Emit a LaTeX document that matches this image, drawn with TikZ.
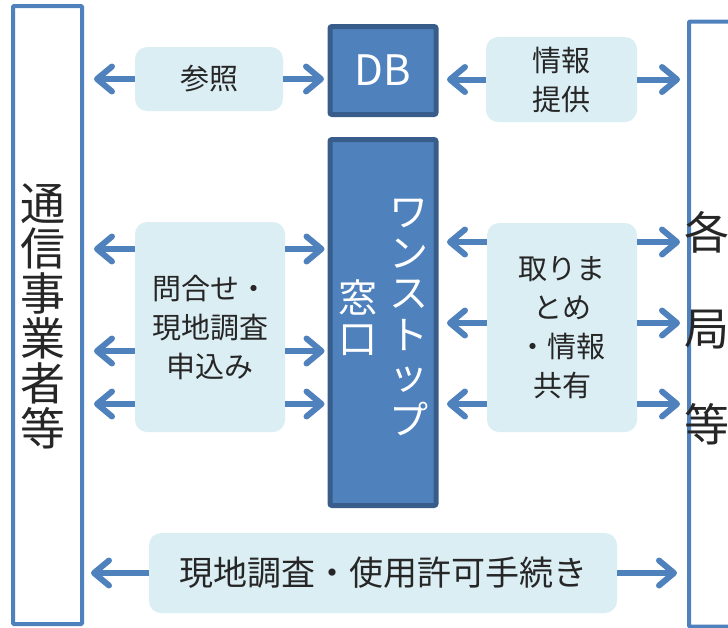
\documentclass[tikz,border=0pt]{standalone}
\usepackage{fontspec}
\setmainfont{Noto Sans CJK JP}
\usepackage{xcolor}
\usepackage{tikz}
\usetikzlibrary{arrows.meta}
\usetikzlibrary{positioning}
\definecolor{officeblue}{HTML}{4F81BD}
\definecolor{darkblue}{HTML}{385D8A}
\definecolor{paleblue}{HTML}{DBEEF4}
\tikzset{
    sidebox/.style = {rectangle, draw=officeblue, line width=4pt, fill=white, rounded corners=1pt},
    sidetext/.style = {align=center, text=black!85, inner sep=0pt, font=\fontsize{45pt}{45pt}\selectfont},
    bluebox/.style = {rectangle, draw=darkblue, line width=5pt, fill=officeblue, rounded corners=2pt, text=white, inner sep=0pt},
    palebox/.style = {rectangle, fill=paleblue, rounded corners=12pt, align=center, text=black!85, font=\fontsize{29pt}{39pt}\selectfont},
}

\begin{document}
\begin{tikzpicture}[x=1pt,y=-1pt]
\tikzset{
    flow/.style = {-{Straight Barb[length=15pt,width=25pt,round]}, line width=6pt, draw=officeblue},
}
\useasboundingbox (0,0) rectangle (728,627);
% outer parties
\node[sidebox, minimum width=69pt, minimum height=618pt] at (47.5,315) (carrier) {};
\node[sidebox, minimum width=120pt, minimum height=605pt, anchor=north west] at (687,19.5) (bureau) {};
\node[sidetext] at (43,316) (carriername) {通\\信\\事\\業\\者\\等};
\node[sidetext, font=\fontsize{45pt}{96pt}\selectfont] at (707,328) (bureauname) {各\\局\\等};
% centre
\node[bluebox, minimum width=106pt, minimum height=88pt, font=\fontsize{42pt}{42pt}\selectfont] at (383,70.5) (db) {DB};
\node[bluebox, minimum width=106pt, minimum height=366pt, font=\fontsize{39pt}{40pt}\selectfont] at (383,322.5) (window)
    {\begin{tabular}[c]{@{}c@{}}窓\\口\end{tabular}\hspace{12pt}\begin{tabular}[c]{@{}c@{}}ワ\\ン\\ス\\ト\\ッ\\プ\end{tabular}\hspace{11pt}};
% flows
\node[palebox, minimum width=148pt, minimum height=64pt] at (209,79) (refer) {参照};
\node[palebox, minimum width=151pt, minimum height=85pt] at (561.5,79.5) (supply) {情報\\提供};
\node[palebox, minimum width=150pt, minimum height=210pt] at (210,327) (inquiry) {問合せ・\\現地調査\\申込み};
\node[palebox, minimum width=150pt, minimum height=209pt] at (562,327.5) (share) {取りま\\とめ\\・情報\\共有};
\node[palebox, minimum width=468pt, minimum height=80pt, font=\fontsize{34pt}{40pt}\selectfont] at (383,573) (permit) {現地調査・使用許可手続き};
%
\draw[flow, shorten >=10pt] (refer) -- (refer -| carrier.east);
\draw[flow, shorten >=3.5pt] (refer) -- (refer -| db.west);
\draw[flow, shorten >=8.5pt] (supply) -- (supply -| db.east);
\draw[flow, shorten >=7pt] (supply) -- (supply -| bureau.west);
%
\foreach \y in {249,351,404} {
    \draw[flow, shorten >=10pt] (inquiry.west |- 0,\y) -- (carrier.east |- 0,\y);
    \draw[flow, shorten >=3pt] (inquiry.east |- 0,\y) -- (window.west |- 0,\y);
}
\foreach \y in {242,323,404} {
    \draw[flow, shorten >=8.5pt] (share.west |- 0,\y) -- (window.east |- 0,\y);
    \draw[flow, shorten >=7pt] (share.east |- 0,\y) -- (bureau.west |- 0,\y);
}
%
\draw[flow, shorten >=7pt] (permit) -- (permit -| carrier.east);
\draw[flow, shorten >=10pt] (permit) -- (permit -| bureau.west);
\end{tikzpicture}
\end{document}
